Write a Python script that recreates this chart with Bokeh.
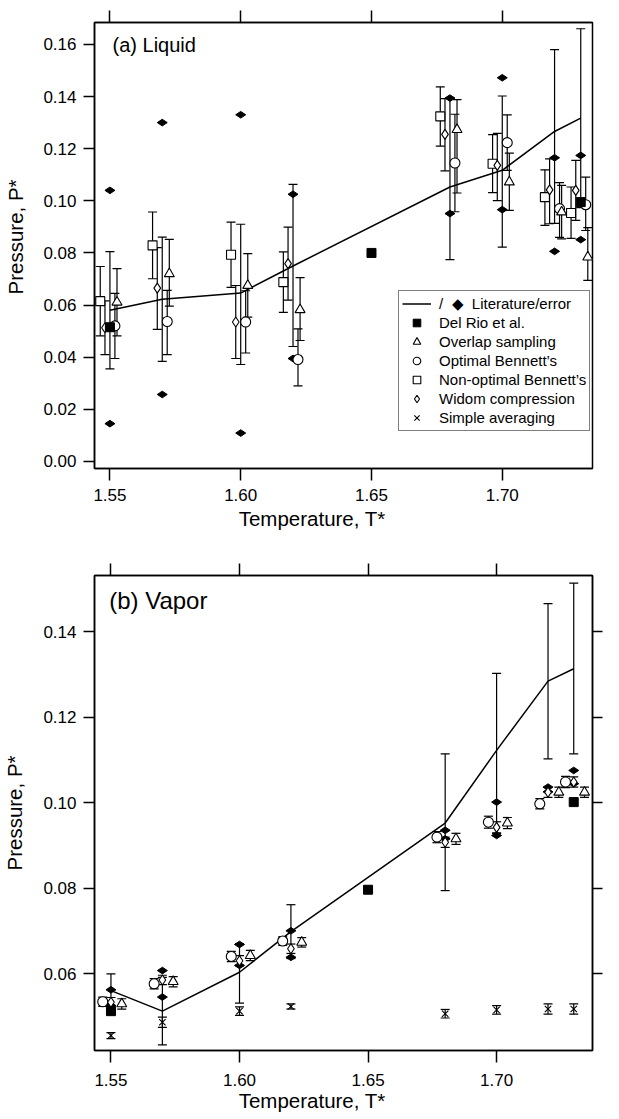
from bokeh.plotting import figure
from bokeh.models import (ColumnDataSource, Whisker, TeeHead, Range1d, LinearAxis,
                          FixedTicker, Legend, LegendItem, Label, NumeralTickFormatter)
from bokeh.transform import dodge
from bokeh.layouts import column
from bokeh.embed import file_html
from bokeh.resources import INLINE
import numpy as np

FONT = "Liberation Sans"
NB = "\u00a0"

# ---------------- data ----------------
temps = [1.55, 1.57, 1.60, 1.62, 1.68, 1.70, 1.72, 1.73]
delrio_T = [1.55, 1.65, 1.73]

x_ticks = [1.55, 1.60, 1.65, 1.70]
liq_y_ticks = [0.00, 0.02, 0.04, 0.06, 0.08, 0.10, 0.12, 0.14, 0.16]
vap_y_ticks = [0.06, 0.08, 0.10, 0.12, 0.14]

# (a) Liquid
liq_lit_P = [0.0580, 0.0622, 0.0646, 0.0750, 0.1053, 0.1117, 0.1266, 0.1317]
liq_lit_lo = [0.0355, 0.0384, 0.0372, 0.0441, 0.0774, 0.0822, 0.0913, 0.0974]
liq_lit_hi = [0.0805, 0.0861, 0.0910, 0.1063, 0.1394, 0.1402, 0.1580, 0.1660]
liq_errpt_hi = [0.1040, 0.1300, 0.1330, 0.1025, 0.1394, 0.1472, 0.1165, 0.1174]
liq_errpt_lo = [0.0145, 0.0257, 0.0109, 0.0395, 0.0951, 0.0966, 0.0806, 0.0851]
liq_delrio = [0.0515, 0.0800, 0.0995]

liq_sq_P = [0.0615, 0.0829, 0.0793, 0.0688, 0.1324, 0.1142, 0.1014, 0.0953]
liq_sq_lo = [0.0482, 0.0701, 0.0668, 0.0572, 0.1210, 0.1031, 0.0906, 0.0856]
liq_sq_hi = [0.0748, 0.0957, 0.0918, 0.0804, 0.1437, 0.1254, 0.1119, 0.1053]

liq_dia_P = [0.0513, 0.0665, 0.0535, 0.0759, 0.1255, 0.1136, 0.1042, 0.1040]
liq_dia_lo = [0.0410, 0.0507, 0.0395, 0.0619, 0.1115, 0.1001, 0.0912, 0.0925]
liq_dia_hi = [0.0616, 0.0820, 0.0675, 0.0899, 0.1392, 0.1259, 0.1161, 0.1155]

liq_cir_P = [0.0520, 0.0537, 0.0535, 0.0391, 0.1145, 0.1223, 0.0970, 0.0985]
liq_cir_lo = [0.0395, 0.0410, 0.0416, 0.0290, 0.0958, 0.1117, 0.0860, 0.0886]
liq_cir_hi = [0.0645, 0.0656, 0.0655, 0.0509, 0.1332, 0.1330, 0.1070, 0.1091]

liq_tri_P = [0.0611, 0.0720, 0.0675, 0.0582, 0.1273, 0.1072, 0.0957, 0.0784]
liq_tri_lo = [0.0482, 0.0596, 0.0554, 0.0464, 0.1030, 0.0963, 0.0854, 0.0695]
liq_tri_hi = [0.0740, 0.0852, 0.0797, 0.0705, 0.1388, 0.1183, 0.1059, 0.0897]

# (b) Vapor
vap_lit_P = [0.0560, 0.0512, 0.0603, 0.0698, 0.0952, 0.1122, 0.1284, 0.1313]
vap_lit_lo = [0.0520, 0.0433, 0.0531, 0.0635, 0.0794, 0.0928, 0.1102, 0.1114]
vap_lit_hi = [0.0599, 0.0591, 0.0670, 0.0761, 0.1114, 0.1302, 0.1465, 0.1513]
vap_errpt_hi = [0.0562, 0.0607, 0.0668, 0.0700, 0.0935, 0.1001, 0.1036, 0.1075]
vap_errpt_lo = [0.0525, 0.0545, 0.0619, 0.0638, 0.0915, 0.0923, 0.1025, 0.1044]
vap_delrio = [0.0512, 0.0796, 0.1001]

vap_cir_P = [0.0534, 0.0576, 0.0640, 0.0676, 0.0919, 0.0954, 0.0997, 0.1048]
vap_cir_err = [0.0011, 0.0012, 0.0012, 0.0010, 0.0013, 0.0014, 0.0012, 0.0013]
vap_dia_P = [0.0533, 0.0585, 0.0630, 0.0658, 0.0907, 0.0942, 0.1024, 0.1048]
vap_dia_err = [0.0011, 0.0011, 0.0012, 0.0011, 0.0012, 0.0013, 0.0012, 0.0012]
vap_tri_P = [0.0529, 0.0581, 0.0642, 0.0673, 0.0915, 0.0952, 0.1024, 0.1024]
vap_tri_err = [0.0012, 0.0012, 0.0012, 0.0011, 0.0013, 0.0013, 0.0012, 0.0012]
vap_avg_P = [0.0455, 0.0486, 0.0512, 0.0523, 0.0506, 0.0515, 0.0517, 0.0517]
vap_avg_err = [0.0007, 0.0012, 0.0010, 0.0006, 0.0010, 0.0010, 0.0012, 0.0012]


# ---------------- helpers ----------------
def style_axis(ax, ticks, size="17px", label=None, tick_out=12, standoff=7, lab_standoff=6,
               show_labels=True):
    ax.ticker = FixedTicker(ticks=ticks)
    ax.formatter = NumeralTickFormatter(format="0.00")
    ax.axis_line_color = "black"
    ax.axis_line_width = 1.5
    ax.major_tick_line_color = "black"
    ax.major_tick_line_width = 1.5
    ax.major_tick_in = 0
    ax.major_tick_out = tick_out
    ax.minor_tick_line_color = None
    ax.major_label_text_font = FONT
    ax.major_label_text_color = "black"
    ax.major_label_text_font_size = size
    if show_labels:
        ax.major_label_standoff = standoff
    else:
        ax.major_label_overrides = {t: "" for t in ticks}
        ax.major_label_standoff = 0
    if label:
        ax.axis_label = label
        ax.axis_label_text_font = FONT
        ax.axis_label_text_font_style = "normal"
        ax.axis_label_text_font_size = "20.5px"
        ax.axis_label_text_color = "black"
        ax.axis_label_standoff = lab_standoff


def whiskers(p, src, base, lo, hi, off, width=1.2, head=9):
    w = Whisker(source=src, base=dodge(base, off, range=p.x_range), lower=lo, upper=hi,
                dimension="height", line_color="black", line_width=width,
                upper_head=TeeHead(size=head, line_color="black", line_width=width),
                lower_head=TeeHead(size=head, line_color="black", line_width=width))
    p.add_layout(w)
    return w


def make_fig(h, xr, yr, left, right, top, bottom):
    p = figure(width=603, height=h, x_range=Range1d(*xr), y_range=Range1d(*yr),
               output_backend="svg", toolbar_location=None,
               min_border_left=left, min_border_right=right,
               min_border_top=top, min_border_bottom=bottom)
    p.xgrid.visible = False
    p.ygrid.visible = False
    p.outline_line_color = "black"
    p.outline_line_width = 1.5
    p.background_fill_color = "white"
    p.border_fill_color = "white"
    return p


XLAB = "Temperature, T*" + NB * 11

# ---------------- (a) Liquid ----------------
p1 = make_fig(548, (1.5441, 1.7345), (-0.0027, 0.1684), 86, 0, 22, 80)
style_axis(p1.xaxis[0], x_ticks, label=XLAB, standoff=8, lab_standoff=3)
style_axis(p1.yaxis[0], liq_y_ticks, label=NB * 3 + "Pressure, P*", tick_out=11, standoff=7,
           lab_standoff=13)
top1 = LinearAxis()
style_axis(top1, x_ticks, show_labels=False)
p1.add_layout(top1, "above")

s_lit1 = ColumnDataSource(dict(T=temps, P=liq_lit_P, lo=liq_lit_lo, hi=liq_lit_hi,
                               ehi=liq_errpt_hi, elo=liq_errpt_lo))
s_sq1 = ColumnDataSource(dict(T=temps, P=liq_sq_P, lo=liq_sq_lo, hi=liq_sq_hi))
s_dia1 = ColumnDataSource(dict(T=temps, P=liq_dia_P, lo=liq_dia_lo, hi=liq_dia_hi))
s_cir1 = ColumnDataSource(dict(T=temps, P=liq_cir_P, lo=liq_cir_lo, hi=liq_cir_hi))
s_tri1 = ColumnDataSource(dict(T=temps, P=liq_tri_P, lo=liq_tri_lo, hi=liq_tri_hi))
s_dr1 = ColumnDataSource(dict(T=delrio_T, P=liq_delrio))
s_none = ColumnDataSource(dict(T=[np.nan], P=[np.nan]))  # no simple-averaging data in (a)

OFF_SQ, OFF_DIA, OFF_CIR, OFF_TRI = -0.0037, -0.0019, 0.0019, 0.0027

line1 = p1.line("T", "P", source=s_lit1, line_color="black", line_width=1.5)
whiskers(p1, s_lit1, "T", "lo", "hi", 0.0)
whiskers(p1, s_sq1, "T", "lo", "hi", OFF_SQ)
whiskers(p1, s_dia1, "T", "lo", "hi", OFF_DIA)
whiskers(p1, s_cir1, "T", "lo", "hi", OFF_CIR)
whiskers(p1, s_tri1, "T", "lo", "hi", OFF_TRI)

ept_kw = dict(marker="diamond", size=10, angle=np.pi / 2, fill_color="black", line_color="black")
p1.scatter("T", "ehi", source=s_lit1, **ept_kw)
p1.scatter("T", "elo", source=s_lit1, **ept_kw)

mk = dict(fill_color="white", line_color="black", line_width=1.1)
r_sq1 = p1.scatter(dodge("T", OFF_SQ, range=p1.x_range), "P", source=s_sq1, marker="square", size=9, **mk)
r_dia1 = p1.scatter(dodge("T", OFF_DIA, range=p1.x_range), "P", source=s_dia1, marker="diamond", size=10, **mk)
r_cir1 = p1.scatter(dodge("T", OFF_CIR, range=p1.x_range), "P", source=s_cir1, marker="circle", size=10, **mk)
r_tri1 = p1.scatter(dodge("T", OFF_TRI, range=p1.x_range), "P", source=s_tri1, marker="triangle", size=10, **mk)
r_dr1 = p1.scatter("T", "P", source=s_dr1, marker="square", size=9, fill_color="black", line_color="black")
r_x1 = p1.scatter("T", "P", source=s_none, marker="x", size=9, line_color="black", line_width=1.1)

legend = Legend(items=[
    LegendItem(label="/  \u25c6  Literature/error", renderers=[line1]),
    LegendItem(label="Del Rio et al.", renderers=[r_dr1]),
    LegendItem(label="Overlap sampling", renderers=[r_tri1]),
    LegendItem(label="Optimal Bennett\u2019s", renderers=[r_cir1]),
    LegendItem(label="Non-optimal Bennett\u2019s", renderers=[r_sq1]),
    LegendItem(label="Widom compression", renderers=[r_dia1]),
    LegendItem(label="Simple averaging", renderers=[r_x1]),
], location=(304, 37), orientation="vertical")
legend.border_line_color = "black"
legend.border_line_width = 1.5
legend.background_fill_color = "white"
legend.background_fill_alpha = 1.0
legend.label_text_font = FONT
legend.label_text_font_size = "15px"
legend.label_text_color = "black"
legend.glyph_width = 29
legend.glyph_height = 19
legend.label_height = 15
legend.label_standoff = 8
legend.spacing = 0
legend.padding = 3
legend.margin = 0
p1.add_layout(legend, "center")

p1.add_layout(Label(x=1.5510, y=0.1596, text="(a) Liquid", text_baseline="middle",
                    text_font=FONT, text_font_size="20px", text_color="black"))

# ---------------- (b) Vapor ----------------
p2 = make_fig(568, (1.5436, 1.7373), (0.0420, 0.1531), 87, 11, 27, 66)
style_axis(p2.xaxis[0], x_ticks, label=XLAB, tick_out=12, standoff=11, lab_standoff=0)
style_axis(p2.yaxis[0], vap_y_ticks, label="Pressure, P*", tick_out=11, standoff=7, lab_standoff=14)
top2 = LinearAxis()
style_axis(top2, x_ticks, show_labels=False)
p2.add_layout(top2, "above")
right2 = LinearAxis()
style_axis(right2, vap_y_ticks, tick_out=10, show_labels=False)
p2.add_layout(right2, "right")

s_lit2 = ColumnDataSource(dict(T=temps, P=vap_lit_P, lo=vap_lit_lo, hi=vap_lit_hi,
                               ehi=vap_errpt_hi, elo=vap_errpt_lo))


def errsrc(P, e):
    return ColumnDataSource(dict(T=temps, P=P, lo=[a - b for a, b in zip(P, e)],
                                 hi=[a + b for a, b in zip(P, e)]))


s_cir2 = errsrc(vap_cir_P, vap_cir_err)
s_dia2 = errsrc(vap_dia_P, vap_dia_err)
s_tri2 = errsrc(vap_tri_P, vap_tri_err)
s_avg2 = errsrc(vap_avg_P, vap_avg_err)
s_dr2 = ColumnDataSource(dict(T=delrio_T, P=vap_delrio))

V_CIR, V_DIA, V_TRI = -0.0032, 0.0, 0.0042

p2.line("T", "P", source=s_lit2, line_color="black", line_width=1.5)
whiskers(p2, s_lit2, "T", "lo", "hi", 0.0)
whiskers(p2, s_cir2, "T", "lo", "hi", V_CIR)
whiskers(p2, s_dia2, "T", "lo", "hi", V_DIA)
whiskers(p2, s_tri2, "T", "lo", "hi", V_TRI)
whiskers(p2, s_avg2, "T", "lo", "hi", 0.0)

p2.scatter("T", "ehi", source=s_lit2, **ept_kw)
p2.scatter("T", "elo", source=s_lit2, **ept_kw)
p2.scatter(dodge("T", V_CIR, range=p2.x_range), "P", source=s_cir2, marker="circle", size=10, **mk)
p2.scatter(dodge("T", V_DIA, range=p2.x_range), "P", source=s_dia2, marker="diamond", size=10, **mk)
p2.scatter(dodge("T", V_TRI, range=p2.x_range), "P", source=s_tri2, marker="triangle", size=10, **mk)
p2.scatter("T", "P", source=s_avg2, marker="x", size=9, line_color="black", line_width=1.1)
p2.scatter("T", "P", source=s_dr2, marker="square", size=9, fill_color="black", line_color="black")

p2.add_layout(Label(x=1.5493, y=0.1473, text="(b) Vapor", text_baseline="middle",
                    text_font=FONT, text_font_size="24px", text_color="black"))

layout = column(p1, p2, spacing=0)
open("out.html", "w").write(file_html(layout, INLINE))
